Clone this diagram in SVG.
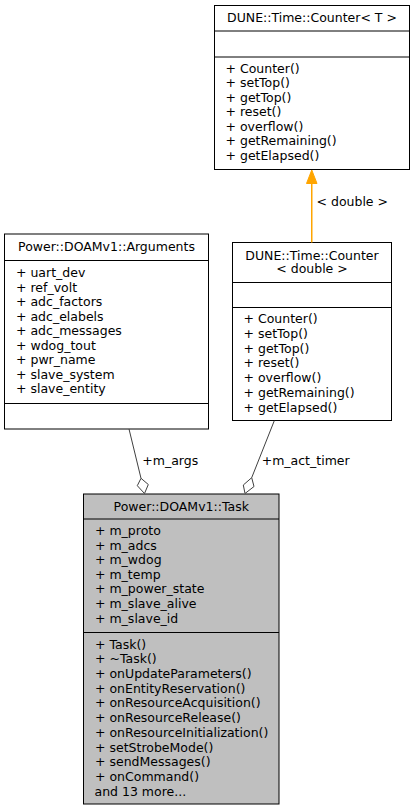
<svg xmlns="http://www.w3.org/2000/svg" width="415" height="811" viewBox="0 0 415 811">
<style>
text{font-family:"DejaVu Sans",sans-serif;font-size:12.5px;fill:#000}
.c{text-anchor:middle}
.box{fill:#fff;stroke:#000;stroke-width:1}
.sel{fill:#bfbfbf;stroke:#000;stroke-width:1}
.div{stroke:#000;stroke-width:1}
.edge{fill:none;stroke:#404040;stroke-width:1}
.dia{fill:#fff;stroke:#404040;stroke-width:1}
.inh{fill:none;stroke:#ffa500;stroke-width:1.5}
</style>
<rect width="415" height="811" fill="#fff"/>
<g id="counter_t">
<rect class="box" x="214.5" y="5.5" width="195" height="164"/>
<line class="div" x1="214.5" y1="31" x2="409.5" y2="31"/>
<line class="div" x1="214.5" y1="57" x2="409.5" y2="57"/>
<text class="c" x="312" y="22">DUNE::Time::Counter&lt; T &gt;</text>
<text x="225.5" y="72.5">+ Counter()</text>
<text x="225.5" y="87">+ setTop()</text>
<text x="225.5" y="101.5">+ getTop()</text>
<text x="225.5" y="116">+ reset()</text>
<text x="225.5" y="130.5">+ overflow()</text>
<text x="225.5" y="145">+ getRemaining()</text>
<text x="225.5" y="159.5">+ getElapsed()</text>
</g>
<g id="arguments">
<rect class="box" x="4.5" y="234" width="204" height="195"/>
<line class="div" x1="4.5" y1="260.5" x2="208.5" y2="260.5"/>
<line class="div" x1="4.5" y1="403.5" x2="208.5" y2="403.5"/>
<text class="c" x="106.5" y="251">Power::DOAMv1::Arguments</text>
<text x="16" y="277">+ uart_dev</text>
<text x="16" y="291.5">+ ref_volt</text>
<text x="16" y="306">+ adc_factors</text>
<text x="16" y="320.5">+ adc_elabels</text>
<text x="16" y="335">+ adc_messages</text>
<text x="16" y="349.5">+ wdog_tout</text>
<text x="16" y="364">+ pwr_name</text>
<text x="16" y="378.5">+ slave_system</text>
<text x="16" y="393">+ slave_entity</text>
</g>
<g id="counter_double">
<rect class="box" x="232.5" y="242.5" width="159" height="178"/>
<line class="div" x1="232.5" y1="282.5" x2="391.5" y2="282.5"/>
<line class="div" x1="232.5" y1="307.5" x2="391.5" y2="307.5"/>
<text class="c" x="312" y="259.5">DUNE::Time::Counter</text>
<text class="c" x="312" y="273">&lt; double &gt;</text>
<text x="243.5" y="323">+ Counter()</text>
<text x="243.5" y="337.75">+ setTop()</text>
<text x="243.5" y="352.5">+ getTop()</text>
<text x="243.5" y="367.25">+ reset()</text>
<text x="243.5" y="382">+ overflow()</text>
<text x="243.5" y="396.75">+ getRemaining()</text>
<text x="243.5" y="411.5">+ getElapsed()</text>
</g>
<g id="task">
<rect class="sel" x="83.5" y="494" width="195.5" height="310"/>
<line class="div" x1="83.5" y1="519" x2="279" y2="519"/>
<line class="div" x1="83.5" y1="632.5" x2="279" y2="632.5"/>
<text class="c" x="181.25" y="510.5">Power::DOAMv1::Task</text>
<text x="95" y="535">+ m_proto</text>
<text x="95" y="549.6">+ m_adcs</text>
<text x="95" y="564.2">+ m_wdog</text>
<text x="95" y="578.8">+ m_temp</text>
<text x="95" y="593.4">+ m_power_state</text>
<text x="95" y="608">+ m_slave_alive</text>
<text x="95" y="622.6">+ m_slave_id</text>
<text x="95" y="648.5">+ Task()</text>
<text x="95" y="663.24">+ ~Task()</text>
<text x="95" y="677.98">+ onUpdateParameters()</text>
<text x="95" y="692.72">+ onEntityReservation()</text>
<text x="95" y="707.46">+ onResourceAcquisition()</text>
<text x="95" y="722.2">+ onResourceRelease()</text>
<text x="95" y="736.94">+ onResourceInitialization()</text>
<text x="95" y="751.68">+ setStrobeMode()</text>
<text x="95" y="766.42">+ sendMessages()</text>
<text x="95" y="781.16">+ onCommand()</text>
<text x="94.5" y="795.9">and 13 more...</text>
</g>
<g id="connectors">
<line class="inh" x1="311.75" y1="242.5" x2="311.75" y2="182"/>
<polygon points="311.75,170 306.5,183.5 317,183.5" fill="#ffa500" stroke="#ffa500" stroke-width="1"/>
<text x="316.5" y="206">&lt; double &gt;</text>
<line class="edge" x1="129" y1="429" x2="141" y2="478.3"/>
<polygon class="dia" points="141,478.3 148.3,484.5 144.5,493.5 137.3,485.7"/>
<text x="142.3" y="465">+m_args</text>
<line class="edge" x1="274.3" y1="420.7" x2="251.7" y2="477.7"/>
<polygon class="dia" points="251.7,477.7 254,486.5 245,493.5 243.3,485"/>
<text x="261.7" y="465">+m_act_timer</text>
</g>
</svg>
